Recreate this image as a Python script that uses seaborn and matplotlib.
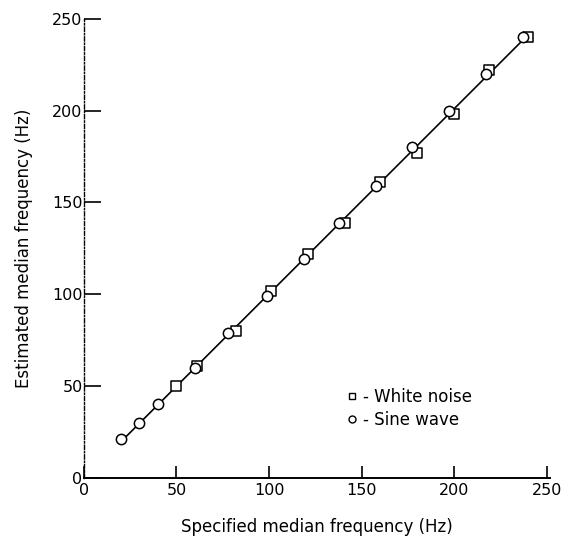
import numpy as np
import pandas as pd
import matplotlib
matplotlib.use("Agg")
import matplotlib.pyplot as plt
from matplotlib.lines import Line2D
import seaborn as sns

# Specified vs. estimated median frequency (Hz)
sine_x = [20, 30, 40, 60, 78, 99, 119, 138, 158, 177, 197, 217, 237]
sine_y = [21, 30, 40, 60, 79, 99, 119, 139, 159, 180, 200, 220, 240]
noise_x = [50, 61, 82, 101, 121, 141, 160, 180, 200, 219, 240]
noise_y = [50, 61, 80, 102, 122, 139, 161, 177, 198, 222, 240]

x_ticks = [0, 50, 100, 150, 200, 250]
y_ticks = [0, 50, 100, 150, 200, 250]

sine = pd.DataFrame({"x": sine_x, "y": sine_y})
noise = pd.DataFrame({"x": noise_x, "y": noise_y})
both = pd.concat([sine, noise], ignore_index=True)

sns.set_theme(style="ticks")
plt.rcParams["font.family"] = ["DejaVu Sans"]
plt.rcParams["text.color"] = "black"
plt.rcParams["axes.labelcolor"] = "black"
plt.rcParams["xtick.color"] = "black"
plt.rcParams["ytick.color"] = "black"

fig = plt.figure(figsize=(5.71, 5.40), dpi=100)
ax = fig.add_axes([0.147, 0.115, 0.817, 0.85])

# fitted line through all estimates
sns.regplot(data=both, x="x", y="y", scatter=False, ci=None, truncate=True,
            color="black", line_kws={"lw": 1.2}, ax=ax)

sns.scatterplot(data=noise, x="x", y="y", marker="s", s=50,
                facecolor="white", edgecolor="black", linewidth=1.1, ax=ax, zorder=3)
sns.scatterplot(data=sine, x="x", y="y", marker="o", s=55,
                facecolor="white", edgecolor="black", linewidth=1.1, ax=ax, zorder=4)

ax.set_xlim(0, 252)
ax.set_ylim(0, 250)
ax.set_xticks(x_ticks)
ax.set_yticks(y_ticks)
ax.set_xticklabels([str(t) for t in x_ticks], fontsize=11.5)
ax.set_yticklabels([str(t) for t in y_ticks], fontsize=11.5)
ax.tick_params(axis="y", direction="in", length=12, width=1.2, pad=1, colors="black")
ax.tick_params(axis="x", direction="in", length=9, width=1.2, pad=4, colors="black")

for s in ["top", "right"]:
    ax.spines[s].set_visible(False)
ax.spines["bottom"].set_linewidth(1.4)
ax.spines["bottom"].set_color("black")
ax.spines["left"].set_linewidth(1.0)
ax.spines["left"].set_color("black")
ax.spines["left"].set_linestyle((0, (3, 1.5, 1, 1.5)))

ax.set_xlabel("Specified median frequency (Hz)", fontsize=12, labelpad=14, color="black")
ax.set_ylabel("Estimated median frequency (Hz)", fontsize=12, labelpad=14, color="black")

handles = [
    Line2D([], [], ls="none", marker="s", ms=5, mfc="white", mec="black", mew=1),
    Line2D([], [], ls="none", marker="o", ms=5, mfc="white", mec="black", mew=1),
]
leg = ax.legend(handles, ["- White noise", "- Sine wave"], loc="upper left",
                bbox_to_anchor=(0.545, 0.215), frameon=False, fontsize=12,
                handlelength=0.6, handletextpad=0.4, labelspacing=0.3, borderpad=0)
for t in leg.get_texts():
    t.set_color("black")

fig.savefig("out.png", dpi=100)
